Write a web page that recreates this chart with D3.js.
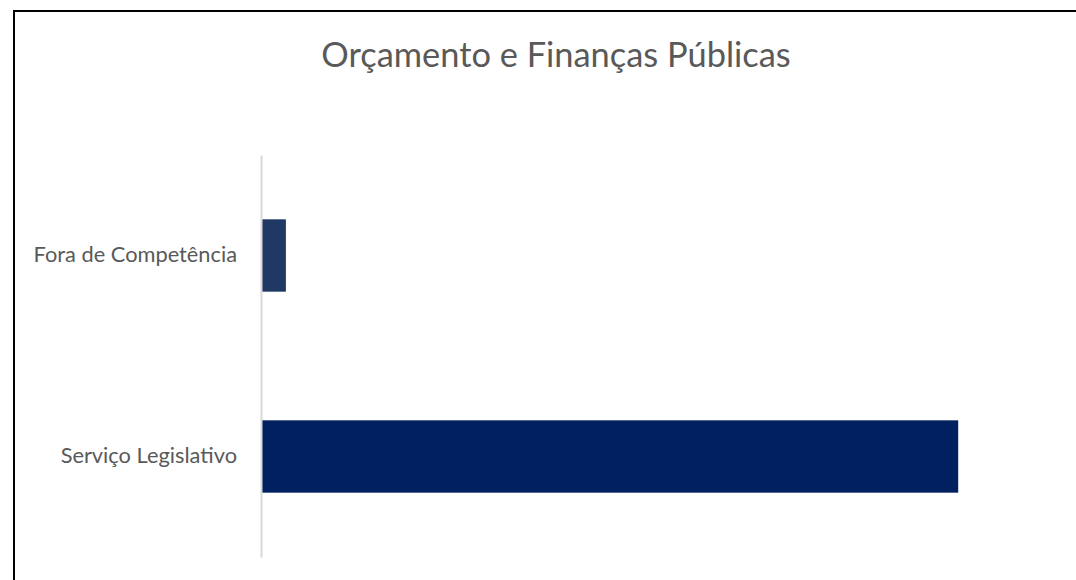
<!DOCTYPE html>
<html><head><meta charset="utf-8">
<script src="https://cdn.jsdelivr.net/npm/d3@7"></script>
<style>body{margin:0;background:#fff}svg{display:block}</style>
</head><body>
<svg id="c" width="1076" height="580"></svg>
<script>
const categories = ["Fora de Competência", "Serviço Legislativo"];
const values = [1, 28];
const barColors = ["#203864", "#002060"];
const title = "Orçamento e Finanças Públicas";

const svg = d3.select("#c");
svg.append("rect").attr("x", 14).attr("y", 11).attr("width", 1080).attr("height", 600)
  .attr("fill", "#fff").attr("stroke", "#000").attr("stroke-width", 2);

const x = d3.scaleLinear().domain([0, 30]).range([261, 1008]);
const y = d3.scaleBand().domain(categories).range([155, 557]).paddingInner(0.64).paddingOuter(0.32);

svg.append("text").attr("x", 556).attr("y", 67).attr("text-anchor", "middle")
  .attr("font-family", "Lato, 'Open Sans', sans-serif").attr("font-size", 34.4).attr("fill", "#595959")
  .text(title);

svg.selectAll("rect.bar").data(categories).join("rect").attr("class", "bar")
  .attr("x", x(0)).attr("y", d => y(d)).attr("height", y.bandwidth())
  .attr("width", (d, i) => x(values[i]) - x(0)).attr("fill", (d, i) => barColors[i]);

const ax = svg.append("g").attr("transform", `translate(${x(0)},0)`)
  .call(d3.axisLeft(y).tickSize(0).tickPadding(24));
ax.select(".domain").attr("stroke", "#d9d9d9").attr("stroke-width", 2);
ax.selectAll("text").attr("font-family", "Lato, 'Open Sans', sans-serif").attr("font-size", 21.8).attr("fill", "#595959");
</script>
</body></html>
